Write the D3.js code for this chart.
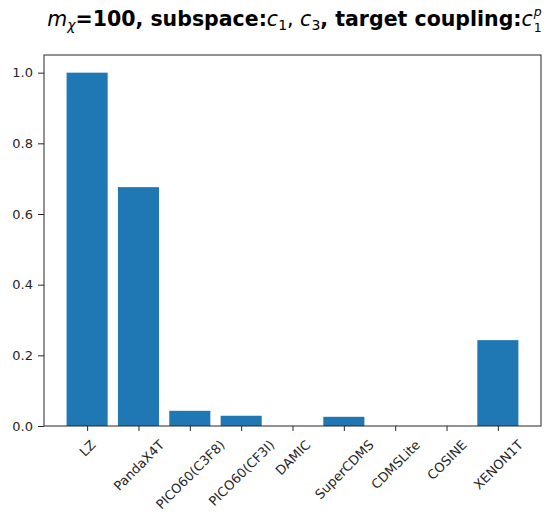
<!DOCTYPE html>
<html>
<head>
<meta charset="utf-8">
<script src="https://cdn.jsdelivr.net/npm/d3@7"></script>
<style>
  html, body { margin: 0; padding: 0; background: #fff; }
  svg { display: block; font-family: "DejaVu Sans", sans-serif; }
  svg text { white-space: pre; }
</style>
</head>
<body>
<svg id="chart" width="549" height="512"></svg>
<script>
// Relative sensitivity per experiment
const experiments = ["LZ", "PandaX4T", "PICO60(C3F8)", "PICO60(CF3I)", "DAMIC",
                     "SuperCDMS", "CDMSLite", "COSINE", "XENON1T"];
const values = [1.0, 0.676, 0.043, 0.029, 0.0, 0.026, 0.0, 0.0, 0.243];
const yTicks = [0.0, 0.2, 0.4, 0.6, 0.8, 1.0];

const m = { left: 44, right: 541, top: 55, bottom: 426 };
const svg = d3.select("#chart");
const ink = "#262626";

// Bars of width 0.8 centred on integer positions
const x = d3.scaleLinear().domain([-0.84, experiments.length - 1 + 0.84]).range([m.left, m.right]);
const y = d3.scaleLinear().domain([0, 1.05]).range([m.bottom, m.top]);
const barW = 0.8;

svg.append("g").selectAll("rect")
  .data(values)
  .join("rect")
  .attr("x", (d, i) => x(i - barW / 2))
  .attr("width", (d, i) => x(i + barW / 2) - x(i - barW / 2))
  .attr("y", d => y(d))
  .attr("height", d => y(0) - y(d))
  .attr("fill", "#1f77b4");

// y axis
const yAxis = svg.append("g")
  .attr("transform", `translate(${m.left},0)`)
  .call(d3.axisLeft(y).tickValues(yTicks).tickFormat(d3.format(".1f")).tickSize(6).tickPadding(5));
yAxis.select(".domain").remove();
yAxis.selectAll("text").attr("font-size", 13).attr("fill", ink).attr("font-family", "DejaVu Sans");
yAxis.selectAll("line").attr("stroke", ink);

// x axis ticks
const xAxis = svg.append("g")
  .attr("transform", `translate(0,${m.bottom})`)
  .call(d3.axisBottom(x).tickValues(d3.range(experiments.length)).tickFormat(i => experiments[i]).tickSize(5));
xAxis.select(".domain").remove();
xAxis.selectAll("line").attr("stroke", ink);

// rotated labels, centred horizontally under each tick
const c = Math.SQRT1_2;
const fs = 13;
xAxis.selectAll("text")
  .attr("font-size", fs)
  .attr("fill", ink)
  .attr("font-family", "DejaVu Sans")
  .attr("text-anchor", "end")
  .attr("dy", null)
  .attr("dominant-baseline", "central")
  .each(function () {
    const L = this.getComputedTextLength();
    const h = fs * 1.1;
    const px = L * c / 2;
    const py = 11.5 + h * c / 2;
    d3.select(this).attr("x", 0).attr("y", 0)
      .attr("transform", `translate(${px},${py}) rotate(-45)`);
  });

// frame
svg.append("rect")
  .attr("x", m.left).attr("y", m.top)
  .attr("width", m.right - m.left).attr("height", m.bottom - m.top)
  .attr("fill", "none").attr("stroke", ink).attr("stroke-width", 1);

// title: mathtext-like pieces, laid out left to right then centred
const tfs = 20.5, sfs = 14, ty = 26;
const tg = svg.append("g");
const it = { "font-style": "italic", "font-weight": "normal" };
const pieces = [
  ["m", it, 0],
  ["χ", { ...it, "font-size": sfs }, 4],
  ["=100, subspace:", { "font-weight": "bold" }, 0],
  ["c", it, 0],
  ["1", { "font-weight": "normal", "font-size": sfs }, 4],
  [", ", { "font-weight": "normal" }, 0],
  ["c", it, 0],
  ["3", { "font-weight": "normal", "font-size": sfs }, 4],
  [", target coupling:", { "font-weight": "bold" }, 0],
  ["c", it, 0]
];
let cx = 0;
pieces.forEach(([t, opts, dy]) => {
  const s = tg.append("text").text(t).attr("x", cx).attr("y", ty + dy)
    .attr("font-size", tfs).attr("fill", "#000");
  Object.entries(opts).forEach(([k, v]) => s.attr(k, v));
  cx += s.node().getComputedTextLength();
});
// stacked super/subscript on the last symbol
const sup = tg.append("text").text("p").attr("x", cx + 1).attr("y", ty - 10)
  .attr("font-size", 12.5).attr("font-style", "italic").attr("fill", "#000");
const sub = tg.append("text").text("1").attr("x", cx + 1).attr("y", ty + 6)
  .attr("font-size", 12.5).attr("fill", "#000");
cx += Math.max(sup.node().getComputedTextLength(), sub.node().getComputedTextLength()) + 1;
// right-aligned near the edge, as wide as the plot allows
tg.attr("transform", `translate(${Math.min((m.left + m.right) / 2 - cx / 2 + 2, 546 - cx)},0)`);
</script>
</body>
</html>
